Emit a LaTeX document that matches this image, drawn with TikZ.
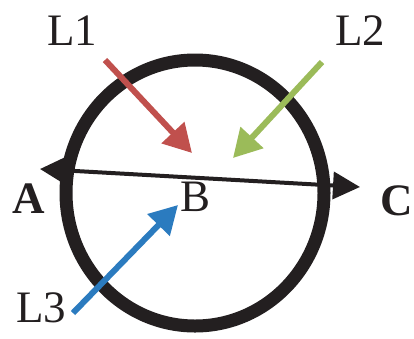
\documentclass[tikz,border=0pt]{standalone}
\usepackage{fontspec}
\setmainfont{Liberation Serif}
\usetikzlibrary{arrows.meta}
\definecolor{ink}{HTML}{231F20}
\definecolor{lred}{HTML}{C0504D}
\definecolor{lgreen}{HTML}{9BBB59}
\definecolor{lblue}{HTML}{2B7BBF}
\begin{document}
\begin{tikzpicture}[x=1pt,y=-1pt,
  lbl/.style={inner sep=0pt,text=ink,font=\fontsize{45}{45}\selectfont},
  blbl/.style={lbl,font=\fontsize{45}{45}\selectfont\bfseries},
  ray/.style={line width=6pt,-{Triangle[length=28pt,width=30pt]}},
  axis/.style={ink,line width=4pt,{Triangle[length=25pt,width=26pt]}-{Triangle[length=27pt,width=27pt]}}]
\useasboundingbox (0,0) rectangle (414,338);
\draw[ink,line width=13pt] (195,193) ellipse [x radius=129pt, y radius=133pt];
\coordinate (Atip) at (40,169);
\coordinate (Ctip) at (360,187);
\draw[axis] (Atip) -- (Ctip);
\node[blbl] (A) at (29,199) {A};
\node[blbl] (C) at (397,201) {C};
\node[lbl] (B) at (196,197) {B};
\node[lbl] (L1) at (72,31) {L1};
\node[lbl] (L2) at (360,31) {L2};
\node[lbl] (L3) at (41,308) {L3};
\coordinate (r1) at (105,60);
\coordinate (r1t) at (192,153);
\coordinate (g1) at (322,62);
\coordinate (g1t) at (233,158);
\coordinate (b1) at (73,313);
\coordinate (b1t) at (178,205);
\draw[ray,lred] (r1) -- (r1t);
\draw[ray,lgreen] (g1) -- (g1t);
\draw[ray,lblue] (b1) -- (b1t);
\end{tikzpicture}
\end{document}
